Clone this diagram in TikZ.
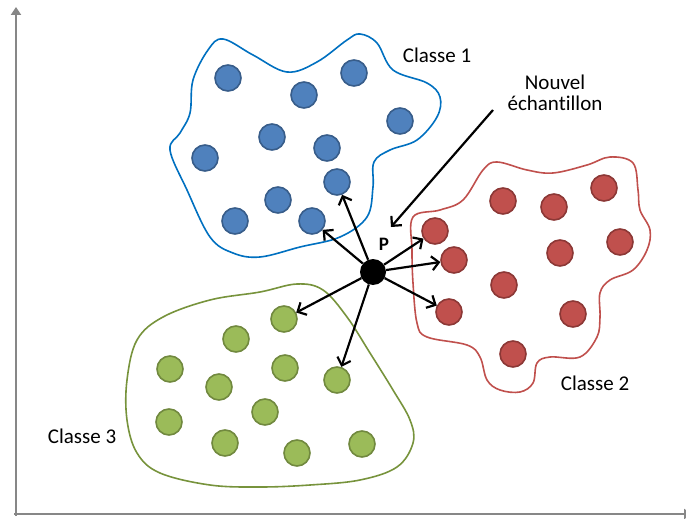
\documentclass[tikz,border=0pt]{standalone}
\usepackage{fontspec}
\setmainfont{Carlito}[Ligatures=NoCommon]
\usetikzlibrary{arrows.meta}
\definecolor{bfill}{HTML}{4F81BD}
\definecolor{bdraw}{HTML}{385D8A}
\definecolor{bline}{HTML}{0070C0}
\definecolor{rfill}{HTML}{C0504D}
\definecolor{rdraw}{HTML}{8C3836}
\definecolor{rline}{HTML}{C0504D}
\definecolor{gfill}{HTML}{9BBB59}
\definecolor{gdraw}{HTML}{71893F}
\definecolor{gline}{HTML}{77933C}
\definecolor{axcol}{HTML}{878787}
\begin{document}
\begin{tikzpicture}[x=1pt,y=-1pt,
  dot/.style={circle, minimum size=26pt, inner sep=0pt, line width=1.6pt},
  bdot/.style={dot, fill=bfill, draw=bdraw},
  rdot/.style={dot, fill=rfill, draw=rdraw},
  gdot/.style={dot, fill=gfill, draw=gdraw},
  blob/.style={line width=1.6pt},
  arr/.style={line width=2.2pt, -{Straight Barb[length=7pt,width=14pt]}},
  axis/.style={line width=2pt, draw=axcol, -{Triangle[length=8pt,width=10pt]}},
  lbl/.style={font=\fontsize{21}{21}\selectfont, inner sep=0pt}]
\useasboundingbox (0,0) rectangle (686,519);
% axes
\coordinate (o) at (16,514);
\coordinate (ytop) at (16,7);
\coordinate (xend) at (692,514);
\draw[axis] (16,516) -- (ytop);
\draw[axis] (14,514) -- (xend);
% blobs
\draw[blob, draw=bline] plot[smooth cycle, tension=0.6] coordinates {
 (223,39) (253,55) (287,72) (317,62) (347,40) (360,34) (377,43) (393,70)
 (427,83) (440,97) (437,117) (417,140) (390,150) (374,162) (373,187)
 (367,217) (340,237) (300,247) (260,257) (233,253) (210,237) (187,190)
 (170,150) (180,133) (190,113) (193,80) (208,50)};
\draw[blob, draw=rline] plot[smooth cycle, tension=0.6] coordinates {
 (413,217) (440,210) (463,200) (483,170) (497,162) (527,170) (553,173)
 (587,165) (610,157) (633,163) (638,190) (640,210) (650,230) (647,250)
 (633,270) (610,280) (600,293) (600,317) (597,337) (580,357) (550,357)
 (537,363) (533,383) (520,392) (500,390) (487,380) (480,357) (467,345)
 (427,337) (417,323) (413,283) (412,250)};
\draw[blob, draw=gline] plot[smooth cycle, tension=0.6] coordinates {
 (297,284) (260,292) (210,300) (163,317) (137,340) (127,380) (127,420)
 (137,453) (160,473) (210,485) (260,487) (310,485) (360,480) (397,467)
 (413,443) (410,420) (393,390) (370,353) (347,317) (323,290)};
% blue points
\node[bdot] (b1) at (228,78) {};
\node[bdot] (b2) at (304,95) {};
\node[bdot] (b3) at (354,73) {};
\node[bdot] (b4) at (400,121) {};
\node[bdot] (b5) at (272,137) {};
\node[bdot] (b6) at (327,148) {};
\node[bdot] (b7) at (205,158) {};
\node[bdot] (b8) at (337,182) {};
\node[bdot] (b9) at (278,200) {};
\node[bdot] (b10) at (235,221) {};
\node[bdot] (b11) at (312,221) {};
% red points
\node[rdot] (r1) at (503,201) {};
\node[rdot] (r2) at (554,207) {};
\node[rdot] (r3) at (604,188) {};
\node[rdot] (r4) at (435,231) {};
\node[rdot] (r5) at (454,260) {};
\node[rdot] (r6) at (560,253) {};
\node[rdot] (r7) at (620,242) {};
\node[rdot] (r8) at (504,285) {};
\node[rdot] (r9) at (449,312) {};
\node[rdot] (r10) at (573,314) {};
\node[rdot] (r11) at (513,354) {};
% green points
\node[gdot] (g1) at (284,319) {};
\node[gdot] (g2) at (236,339) {};
\node[gdot] (g3) at (170,369) {};
\node[gdot] (g4) at (285,368) {};
\node[gdot] (g5) at (219,387) {};
\node[gdot] (g6) at (337,380) {};
\node[gdot] (g7) at (265,412) {};
\node[gdot] (g8) at (169,422) {};
\node[gdot] (g9) at (225,443) {};
\node[gdot] (g10) at (297,453) {};
\node[gdot] (g11) at (362,444) {};
% new sample
\node[circle, fill=black, minimum size=26pt, inner sep=0pt] (P) at (373,272) {};
\node[font=\fontsize{19}{19}\selectfont\bfseries, inner sep=0pt] (Plbl) at (384,244) {P};
\foreach \t in {b8,b11,r4,r5,r9,g1,g6}
  \draw[arr] (P) -- (\t);
% labels
\node[lbl] (c1) at (437,55) {Classe 1};
\node[lbl] (c2) at (595,383) {Classe 2};
\node[lbl] (c3) at (82,436) {Classe 3};
\node[lbl, align=center] (ne) at (555,93) {Nouvel\\échantillon};
\coordinate (ns) at (493,110);
\coordinate (nt) at (391,227);
\draw[arr] (ns) -- (nt);
\end{tikzpicture}
\end{document}
